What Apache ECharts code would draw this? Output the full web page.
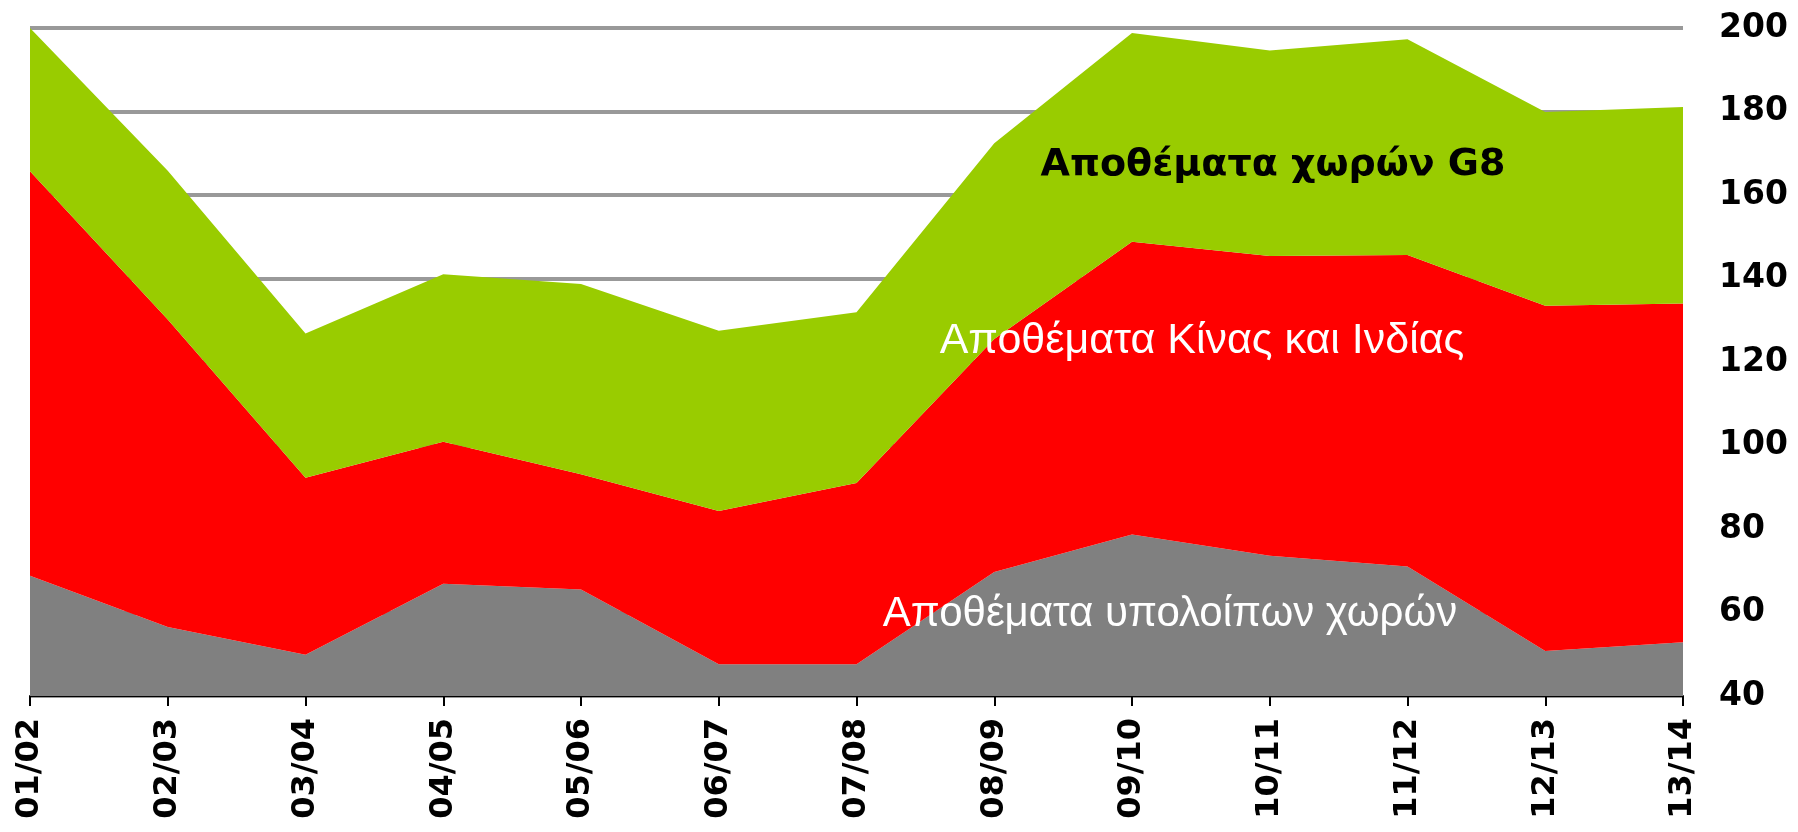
<!DOCTYPE html>
<html>
<head>
<meta charset="utf-8">
<script src="https://cdn.jsdelivr.net/npm/echarts@6/dist/echarts.min.js"></script>
<style>
  html, body { margin: 0; padding: 0; background: #fff; }
  #chart { width: 1798px; height: 832px; }
</style>
</head>
<body>
<div id="chart"></div>
<script>
// seasons on the x axis
const seasons = ['01/02', '02/03', '03/04', '04/05', '05/06', '06/07', '07/08',
                 '08/09', '09/10', '10/11', '11/12', '12/13', '13/14']

// stacked layers, bottom to top
const restOfWorld = [68.8, 56.5, 49.9, 66.9, 65.5, 47.6, 47.6, 69.7, 78.7, 73.6, 71.0, 50.8, 52.9]
const chinaIndia  = [96.9, 73.7, 42.4, 34.0, 27.6, 36.7, 43.4, 55.8, 70.1, 71.8, 74.6, 82.7, 81.1]
const g8          = [34.3, 35.6, 34.5, 40.1, 45.6, 43.2, 40.9, 46.9, 50.0, 49.2, 51.7, 46.4, 47.1]

const seriesNames = ['Αποθέματα υπολοίπων χωρών', 'Αποθέματα Κίνας και Ινδίας', 'Αποθέματα χωρών G8']

const chart = echarts.init(document.getElementById('chart'))

const layer = (name, data, color) => ({
    name: name,
    type: 'line',
    stack: 'total',
    data: data,
    showSymbol: false,
    lineStyle: { width: 0 },
    areaStyle: { color: color, opacity: 1 },
    itemStyle: { color: color },
    silent: true
})

chart.setOption({
    animation: false,
    backgroundColor: '#fff',
    grid: { left: 30, right: 115, top: 28, bottom: 136 },
    xAxis: {
        type: 'category',
        data: seasons,
        boundaryGap: false,
        axisLine: { lineStyle: { color: '#000', width: 2 } },
        axisTick: { length: 10, lineStyle: { color: '#000', width: 2 } },
        axisLabel: {
            rotate: 90,
            margin: 22,
            color: '#000',
            fontFamily: 'DejaVu Sans',
            fontWeight: 'bold',
            fontSize: 32,
            interval: 0
        },
        splitLine: { show: false }
    },
    yAxis: {
        type: 'value',
        position: 'right',
        min: 40,
        max: 200,
        interval: 20,
        axisLine: { show: false },
        axisTick: { show: false },
        axisLabel: {
            margin: 36,
            color: '#000',
            fontFamily: 'DejaVu Sans',
            fontWeight: 'bold',
            fontSize: 33
        },
        splitLine: { lineStyle: { color: '#999', width: 4 } }
    },
    series: [
        layer(seriesNames[0], restOfWorld, '#808080'),
        layer(seriesNames[1], chinaIndia, '#ff0000'),
        layer(seriesNames[2], g8, '#99cc00')
    ],
    graphic: [
        {
            type: 'text', x: 1273, y: 165, z: 100,
            style: {
                text: seriesNames[2], fill: '#000',
                font: 'bold 38px "DejaVu Sans"',
                align: 'center', verticalAlign: 'middle'
            }
        },
        {
            type: 'text', x: 1202, y: 341, z: 100,
            style: {
                text: seriesNames[1], fill: '#fff',
                font: '43px "Liberation Sans"',
                align: 'center', verticalAlign: 'middle'
            }
        },
        {
            type: 'text', x: 1170, y: 614, z: 100,
            style: {
                text: seriesNames[0], fill: '#fff',
                font: '42px "Liberation Sans"',
                align: 'center', verticalAlign: 'middle'
            }
        }
    ]
})
</script>
</body>
</html>
